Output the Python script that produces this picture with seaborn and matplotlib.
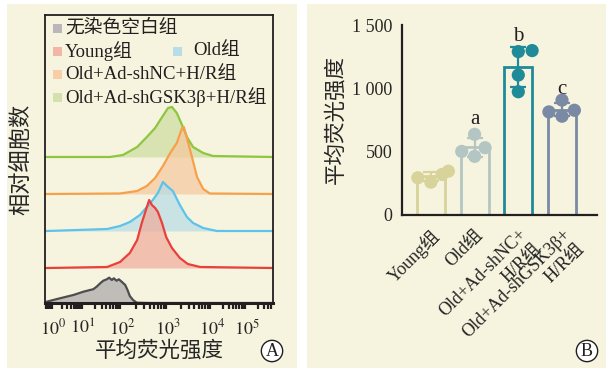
import numpy as np
import pandas as pd
import matplotlib
matplotlib.use("Agg")
import matplotlib.pyplot as plt
from matplotlib.patches import Rectangle
import seaborn as sns

# ---------------- data ----------------
# Panel A: flow cytometry histograms (x in log10 fluorescence decades, y in relative counts)
blank_x = [-0.21, 0.23, 0.68, 1.01, 1.18, 1.26, 1.35, 1.44, 1.52, 1.61, 1.67, 1.74, 1.79, 1.86, 1.92, 1.99, 2.07, 2.12, 2.17, 2.24, 2.32, 2.6]
blank_y = [1.3, 4.7, 8, 11.3, 13, 13.7, 16.3, 19.7, 22.3, 23.7, 25.3, 23, 24.7, 22.3, 23.7, 21.3, 18, 13, 7, 3, 0.3, 0]

young_x = [-0.2, 1.62, 1.95, 2.17, 2.33, 2.43, 2.52, 2.59, 2.65, 2.72, 2.78, 2.87, 2.96, 3.09, 3.27, 3.45, 3.73, 5.74]
young_y = [0, 1, 6, 15, 28, 45, 58, 68, 63, 60, 56, 45, 31, 20, 10, 4, 1, 0]

old_x = [-0.2, 1.62, 1.95, 2.17, 2.39, 2.54, 2.67, 2.78, 2.89, 3.0, 3.11, 3.27, 3.43, 3.57, 3.80, 4.14, 5.74]
old_y = [0, 2, 5, 9, 16, 24, 31, 38, 49, 44, 40, 26, 14, 8, 3, 0, 0]

nc_x = [-0.2, 1.95, 2.33, 2.54, 2.72, 2.89, 3.05, 3.2, 3.32, 3.36, 3.43, 3.55, 3.66, 3.80, 3.95, 5.74]
nc_y = [0, 0.5, 3, 8, 16, 28, 41, 51, 66, 67, 56, 36, 17, 5, 0.5, 0]

gsk_x = [-0.2, 1.69, 2.02, 2.33, 2.54, 2.72, 2.83, 2.93, 3.0, 3.09, 3.2, 3.32, 3.43, 3.57, 3.80, 4.03, 5.74]
gsk_y = [0, 0, 2, 10, 20, 29, 37, 44, 49, 50, 44, 32, 20, 10, 4, 1, 0]

hist_offsets = [0, 35, 72, 109, 146]
legend_labels_A = ["无染色空白组", "Young组", "Old组", "Old+Ad-shNC+H/R组", "Old+Ad-shGSK3β+H/R组"]
decade_ticks = [0, 1, 2, 3, 4, 5]
decade_labels = [r"$10^{0}$", r"$10^{1}$", r"$10^{2}$", r"$10^{3}$", r"$10^{4}$", r"$10^{5}$"]

# Panel B: mean fluorescence intensity
groups = ["Young组", "Old组", "Old+Ad-shNC+H/R组", "Old+Ad-shGSK3β+H/R组"]
group_ticklabels = ["Young组", "Old组", "Old+Ad-shNC+\nH/R组", "Old+Ad-shGSK3β+\nH/R组"]
young_vals = [346, 320, 294, 259]
old_vals = [637, 531, 502, 463]
nc_vals = [1290, 1298, 1105, 973]
gsk_vals = [907, 827, 780, 814]
sig_letters = ["", "a", "b", "c"]
sig_heights = [0, 756, 1409, 992]
yticks_B = [0, 500, 1000, 1500]
yticklabels_B = ["0", "500", "1 000", "1 500"]

# ---------------- style ----------------
sns.set_style("white")
plt.rcParams["font.family"] = ["Liberation Serif", "Noto Sans CJK SC", "DejaVu Sans"]
plt.rcParams["mathtext.fontset"] = "stix"
plt.rcParams["axes.unicode_minus"] = False

cream = "#F6F4DE"
ink = "#231F20"

fig = plt.figure(figsize=(6.06, 3.70), dpi=100, facecolor="white")
W, H = 606, 370

def fx(px):
    return px / W

def fy(py):
    return 1 - py / H

# panel backgrounds
fig.patches.append(Rectangle((fx(7), fy(368)), (297 - 7) / W, (368 - 4) / H,
                             transform=fig.transFigure, facecolor=cream, edgecolor="none", zorder=-10))
fig.patches.append(Rectangle((fx(307), fy(368)), (606 - 307) / W, (368 - 4) / H,
                             transform=fig.transFigure, facecolor=cream, edgecolor="none", zorder=-10))

# ---------------- Panel A ----------------
axA = fig.add_axes([fx(45), fy(303), (273 - 45) / W, (303 - 15) / H])
axA.set_facecolor("none")

D = np.array([-1, 0, 1, 2, 3, 4, 5, 6], dtype=float)
P = np.array([23, 53, 83, 122, 168, 212, 247, 282], dtype=float)

def fwd(x):
    return np.interp(x, D, P)

def inv(y):
    return np.interp(y, P, D)

axA.set_xscale("function", functions=(fwd, inv))

series = [
    (gsk_x, gsk_y, hist_offsets[4], "#8DC63F", "#CCDC9E"),
    (nc_x, nc_y, hist_offsets[3], "#F7A04A", "#F5C89F"),
    (old_x, old_y, hist_offsets[2], "#5CC3EA", "#B6DCE9"),
    (young_x, young_y, hist_offsets[1], "#E8403A", "#F0AA9A"),
    (blank_x, blank_y, hist_offsets[0], "#4D4D4F", "#A9A6A8"),
]
for xs, ys, off, lc, fc in series:
    xs = np.asarray(xs, float)
    ys = np.asarray(ys, float) + off
    full_x = np.concatenate([[-0.27], xs, [5.75]])
    full_y = np.concatenate([[off], ys, [off]])
    axA.fill_between(full_x, off, full_y, color=fc, alpha=0.7, linewidth=0)
    sns.lineplot(x=full_x, y=full_y, sort=False, estimator=None, color=lc, linewidth=1.6, ax=axA)

axA.set_xlim(-0.267, 5.743)
axA.set_ylim(0, 288)
axA.set_yticks([])
axA.set_xticks(decade_ticks)
axA.set_xticklabels(decade_labels, fontsize=13)
minor = [d + np.log10(k) for d in range(-1, 6) for k in range(2, 10)]
minor = [m for m in minor if -0.267 < m < 5.743]
axA.set_xticks(minor, minor=True)
axA.tick_params(axis="x", which="major", direction="out", length=5, width=2, color=ink, pad=6)
axA.tick_params(axis="x", which="minor", direction="out", length=4, width=1.6, color=ink, bottom=True)
for s in axA.spines.values():
    s.set_visible(True)
    s.set_color(ink)
    s.set_linewidth(1.3)
axA.spines["bottom"].set_linewidth(2.2)
axA.set_xlabel("平均荧光强度", fontsize=15.5, labelpad=2)
axA.set_ylabel("相对细胞数", fontsize=16, labelpad=9)

# legend (manual)
leg_colors = ["#BDB5BA", "#F2B6A6", "#B8DCE8", "#F8CDA8", "#D4E0AE"]
leg_pos = [(53, 28), (53, 51), (173, 51), (53, 74), (53, 97)]
leg_gap = [12, 12, 20, 12, 12]
for (px, py), col, lab, gap in zip(leg_pos, leg_colors, legend_labels_A, leg_gap):
    fig.patches.append(Rectangle((fx(px), fy(py + 4.5)), 9 / W, 9 / H,
                                 transform=fig.transFigure, facecolor=col, edgecolor="none"))
    fig.text(fx(px + gap), fy(py), lab, fontsize=13.5, ha="left", va="center", color=ink)

fig.text(fx(272), fy(351), "A", fontsize=13, ha="center", va="center", color=ink,
         bbox=dict(boxstyle="circle,pad=0.12", facecolor="white", edgecolor=ink, linewidth=1.0))

# ---------------- Panel B ----------------
axB = fig.add_axes([fx(402), fy(215), (597 - 402) / W, (215 - 25) / H])
axB.set_facecolor("none")

df = pd.DataFrame({
    "group": np.repeat(groups, 4),
    "value": young_vals + old_vals + nc_vals + gsk_vals,
})
bar_colors = ["#D8D39A", "#B3C6C3", "#1F8A98", "#7A8AA5"]
pal = dict(zip(groups, bar_colors))

sns.barplot(data=df, x="group", y="value", hue="group", order=groups, hue_order=groups,
            palette=pal, fill=False, errorbar=None, width=0.64, linewidth=2.0,
            legend=False, ax=axB)
stats = df.groupby("group", sort=False)["value"].agg(["mean", "std"]).reindex(groups)
for i, g in enumerate(groups):
    axB.errorbar(i, stats.loc[g, "mean"], yerr=stats.loc[g, "std"], color=pal[g],
                 capsize=6, capthick=1.6, elinewidth=1.6, zorder=3)
sns.swarmplot(data=df, x="group", y="value", hue="group", order=groups, hue_order=groups,
              palette=pal, size=9.5, linewidth=0, legend=False, ax=axB, zorder=4)

for i, (lt, h) in enumerate(zip(sig_letters, sig_heights)):
    if lt:
        axB.text(i, h, lt, ha="center", va="center", fontsize=15, color=ink)

axB.set_xlim(-0.66, 3.8)
axB.set_ylim(0, 1500)
axB.set_yticks(yticks_B)
axB.set_yticklabels(yticklabels_B, fontsize=13)
axB.set_xticks(range(len(groups)))
axB.set_xticklabels(group_ticklabels, fontsize=13, rotation=45, ha="right",
                    rotation_mode="anchor", multialignment="right", va="top")
axB.tick_params(axis="both", direction="out", length=5, width=1.5, color=ink, pad=2)
axB.tick_params(axis="x", pad=3)
for side in ["top", "right"]:
    axB.spines[side].set_visible(False)
for side in ["left", "bottom"]:
    axB.spines[side].set_color(ink)
    axB.spines[side].set_linewidth(1.6)
axB.set_xlabel("")
axB.set_ylabel("平均荧光强度", fontsize=15.5, labelpad=4)

fig.text(fx(587), fy(351), "B", fontsize=13, ha="center", va="center", color=ink,
         bbox=dict(boxstyle="circle,pad=0.12", facecolor="white", edgecolor=ink, linewidth=1.0))

fig.savefig("out.png", dpi=100, facecolor="white")
